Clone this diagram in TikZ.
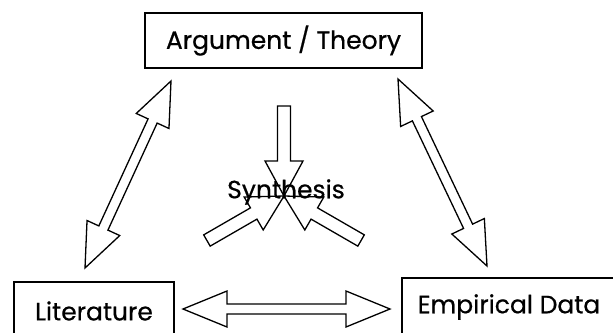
\documentclass[tikz,border=0pt]{standalone}
\usepackage{fontspec}
\setmainfont{Poppins}[FakeBold=0.6]
\usetikzlibrary{calc,positioning}

% hollow double arrow between two named points
\newcommand{\dblarrow}[2]{%
  \draw[blockarrow] (#1)
    -- ($(#1)!44pt!(#2)!18pt!90:(#2)$)
    -- ($(#1)!44pt!(#2)!5pt!90:(#2)$)
    -- ($(#2)!44pt!(#1)!5pt!-90:(#1)$)
    -- ($(#2)!44pt!(#1)!18pt!-90:(#1)$)
    -- (#2)
    -- ($(#2)!44pt!(#1)!18pt!90:(#1)$)
    -- ($(#2)!44pt!(#1)!5pt!90:(#1)$)
    -- ($(#1)!44pt!(#2)!5pt!-90:(#2)$)
    -- ($(#1)!44pt!(#2)!18pt!-90:(#2)$)
    -- cycle;}
% hollow single arrow, tail first
\newcommand{\inarrow}[2]{%
  \draw[blockarrow] ($(#1)!6.5pt!90:(#2)$)
    -- ($(#2)!35pt!(#1)!6.5pt!-90:(#1)$)
    -- ($(#2)!35pt!(#1)!19pt!-90:(#1)$)
    -- (#2)
    -- ($(#2)!35pt!(#1)!19pt!90:(#1)$)
    -- ($(#2)!35pt!(#1)!6.5pt!90:(#1)$)
    -- ($(#1)!6.5pt!-90:(#2)$)
    -- cycle;}

\begin{document}
\begin{tikzpicture}[x=1pt, y=-1pt,
    label/.style={inner sep=0pt, font=\fontsize{25}{28}\selectfont},
    box/.style={label, draw, line width=1.2pt},
    blockarrow/.style={line width=1.3pt, line join=miter}]
  \useasboundingbox (0,0) rectangle (613,332);
  \clip (0,0) rectangle (613,332);

  \node[box, minimum width=277pt, minimum height=55pt] (theory) at (283.5,40.5) {Argument / Theory};
  \node[box, minimum width=160pt, minimum height=58pt] (lit) at (94,311) {Literature};
  \node[box, minimum width=214pt, minimum height=58pt] (data) at (509,307) {Empirical Data};

  % ends of the big arrows
  \coordinate (tl) at (171,81);
  \coordinate (lt) at (85,268);
  \coordinate (tr) at (398,79);
  \coordinate (dt) at (487,266);
  \coordinate (ld) at (183,309);
  \coordinate (dl) at (390,309);
  \dblarrow{lt}{tl}
  \dblarrow{tr}{dt}
  \dblarrow{ld}{dl}

  % synthesis
  \coordinate (syn) at (284,196);
  \coordinate (s1) at ($(syn)+(-90:90)$);
  \coordinate (s2) at ($(syn)+(150:89)$);
  \coordinate (s3) at ($(syn)+(30:89)$);
  \inarrow{s1}{syn}
  \inarrow{s2}{syn}
  \inarrow{s3}{syn}
  \node[label] (synth) at (286,192) {Synthesis};
\end{tikzpicture}
\end{document}
